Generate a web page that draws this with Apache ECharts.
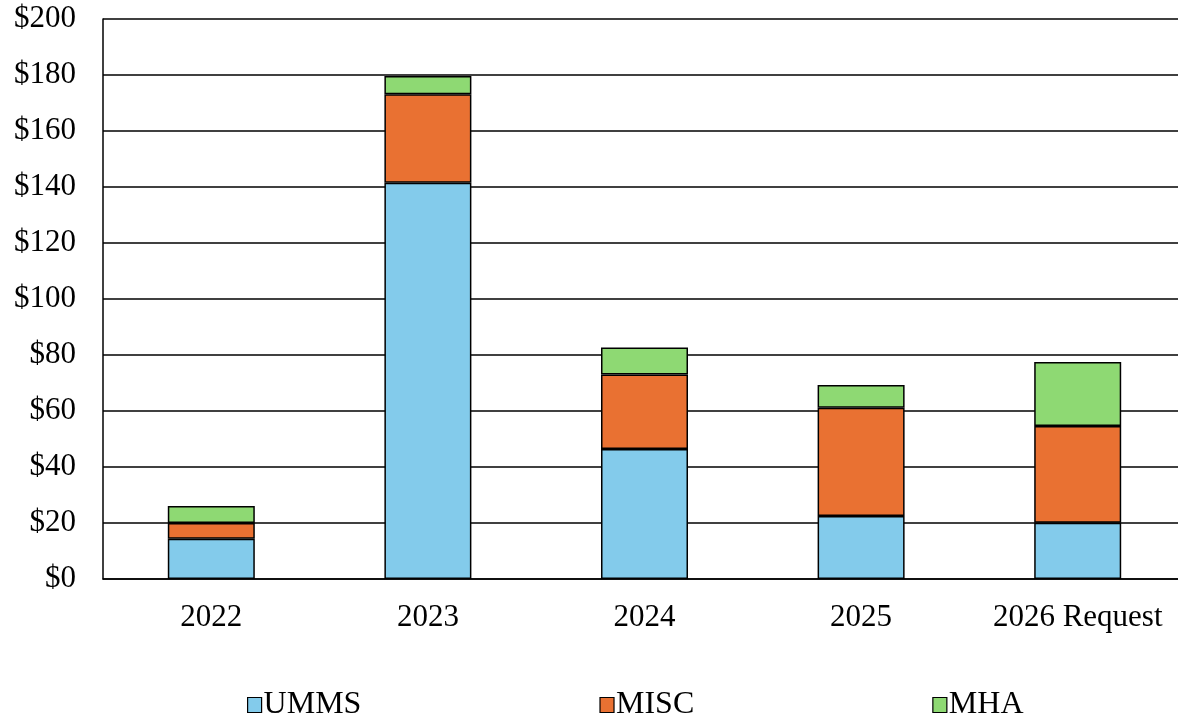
<!DOCTYPE html>
<html><head><meta charset="utf-8">
<script src="https://cdn.jsdelivr.net/npm/echarts@6/dist/echarts.min.js"></script>
<style>html,body{margin:0;padding:0;background:#fff;overflow:hidden}#c{width:1186px;height:717px}</style>
</head><body><div id="c"></div>
<script>
const categories = ['2022', '2023', '2024', '2025', '2026 Request'];
const umms = [14.4, 141.5, 46.4, 22.5, 20.1];
const misc = [5.6, 31.6, 26.6, 38.7, 34.5];
const mha = [6.1, 6.5, 9.7, 8.1, 22.9];
const seriesNames = ['UMMS', 'MISC', 'MHA'];
const colors = ['#83CBEB', '#E97132', '#8ED973'];
const FONT = '"Liberation Serif", "Times New Roman", serif';

const chart = echarts.init(document.getElementById('c'));
const mk = (name, data, color) => ({
  name, type: 'bar', stack: 'total', data, barWidth: 87,
  itemStyle: { color, borderColor: '#000', borderWidth: 1.5 },
  emphasis: { disabled: true }
});
chart.setOption({
  animation: false,
  textStyle: { fontFamily: FONT },
  grid: { left: 103, top: 19, right: 0, height: 560, containLabel: false },
  xAxis: {
    type: 'category', data: categories,
    axisLine: { lineStyle: { color: '#000', width: 1.5 } },
    axisTick: { show: false },
    axisLabel: { color: '#000', fontSize: 31, fontFamily: FONT, margin: 23, interval: 0, hideOverlap: false }
  },
  yAxis: {
    type: 'value', min: 0, max: 200, interval: 20,
    axisLine: { show: true, lineStyle: { color: '#000', width: 1.5 } },
    axisTick: { show: false },
    splitLine: { lineStyle: { color: '#000', width: 1.5 } },
    axisLabel: { color: '#000', fontSize: 31, fontFamily: FONT, margin: 27, formatter: v => '$' + v }
  },
  legend: {
    data: seriesNames, left: 242, top: 684, itemGap: 238,
    itemWidth: 14, itemHeight: 15, icon: 'rect',
    itemStyle: { borderColor: '#000', borderWidth: 1.2 },
    textStyle: { color: '#000', fontSize: 32, fontFamily: FONT, padding: [0, 0, 0, -3] }
  },
  series: [mk('UMMS', umms, colors[0]), mk('MISC', misc, colors[1]), mk('MHA', mha, colors[2])]
});
</script></body></html>
